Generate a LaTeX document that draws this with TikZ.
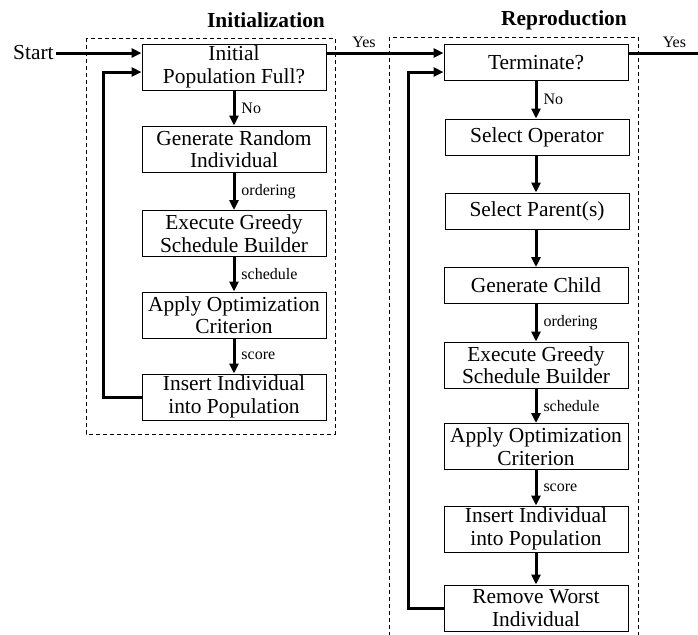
\documentclass[tikz,border=0pt]{standalone}
\usepackage{fontspec}
\setmainfont{Liberation Serif}
\usepackage{tikz}
\usetikzlibrary{positioning,calc,arrows.meta}

\tikzset{
	box/.style={draw, line width=0.5pt, minimum width=92pt, minimum height=23pt, inner sep=0pt, align=center, font=\fontsize{10.7}{11.2}\selectfont},
	sbox/.style={box, minimum height=18pt},
	flow/.style={line width=1.5pt, -{Triangle[length=5pt,width=4.5pt]}},
	lbl/.style={font=\fontsize{8}{9}\selectfont, inner sep=0pt, anchor=west, xshift=3pt},
	yes/.style={font=\fontsize{8}{9}\selectfont, inner sep=0pt, above=2pt},
	frame/.style={line width=0.4pt, dash pattern=on 2pt off 1.5pt},
	title/.style={font=\fontsize{10.7}{11.7}\selectfont\bfseries}
}

\begin{document}
\begin{tikzpicture}[x=0.5pt, y=-0.5pt]
						\clip (0,0) rectangle (698,634);
						\draw[frame] (86,38) rectangle (335,434);
						\draw[frame] (389,37) rectangle (638,660);
						\node[title] (tinit) at (266,20) {Initialization};
						\node[title] (trep) at (564,20) {Reproduction};
						\node[font=\fontsize{10.7}{11.7}\selectfont, inner sep=1pt, anchor=east] (start) at (56,53) {Start};

						\node[box] (initL) at (234,67) {Initial\\Population Full?};
						\node[box] (genL) at (234,149) {Generate Random\\Individual};
						\node[box] (exeL) at (234,233.5) {Execute Greedy\\Schedule Builder};
						\node[box] (appL) at (234,315) {Apply Optimization\\Criterion};
						\node[box] (insL) at (234,397) {Insert Individual\\into Population};

						\node[sbox] (termR) at (536,62.5) {Terminate?};
						\node[sbox] (selopR) at (537,137) {Select Operator};
						\node[sbox] (selparR) at (537,211) {Select Parent(s)};
						\node[sbox] (childR) at (536,285.5) {Generate Child};
						\node[box] (exeR) at (536,365) {Execute Greedy\\Schedule Builder};
						\node[box] (appR) at (536,446.5) {Apply Optimization\\Criterion};
						\node[box] (insR) at (536,529) {Insert Individual\\into Population};
						\node[box] (remR) at (536,608) {Remove Worst\\Individual};

						\coordinate (loopL) at (103,72);
						\coordinate (loopR) at (408,72);
						\coordinate (endR) at (712,53);

						\draw[flow] (start) -- (start -| initL.west);
						\draw[flow] (insL.west) -| (loopL) -- (loopL -| initL.west);
						\draw[flow] (initL) -- node[lbl] {No} (genL);
						\draw[flow] (genL) -- node[lbl] {ordering} (exeL);
						\draw[flow] (exeL) -- node[lbl] {schedule} (appL);
						\draw[flow] (appL) -- node[lbl] {score} (insL);

						\draw[flow] (start -| initL.east) -- node[yes, pos=0.32] {Yes} (start -| termR.west);
						\draw[flow] (start -| termR.east) -- node[yes, pos=0.55] {Yes} (endR);
						\draw[flow] (remR.west) -| (loopR) -- (loopR -| termR.west);
						\draw[flow] (termR) -- node[lbl] {No} (termR |- selopR.north);
						\draw[flow] (termR |- selopR.south) -- (termR |- selparR.north);
						\draw[flow] (termR |- selparR.south) -- (childR);
						\draw[flow] (childR) -- node[lbl] {ordering} (exeR);
						\draw[flow] (exeR) -- node[lbl] {schedule} (appR);
						\draw[flow] (appR) -- node[lbl] {score} (insR);
						\draw[flow] (insR) -- (remR);

					\end{tikzpicture}
\end{document}
